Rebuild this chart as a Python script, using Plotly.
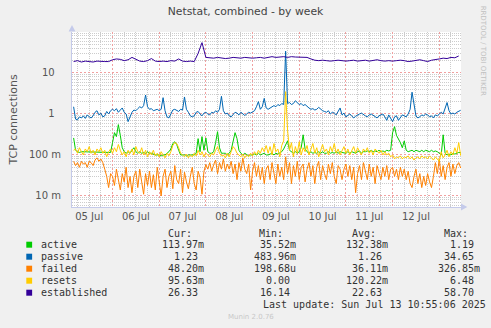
import plotly.graph_objects as go
import pandas as pd

# ---------------- data ----------------
times_1h = pd.date_range("2025-07-05 04:00", periods=200, freq="1h")
times_2h = pd.date_range("2025-07-05 04:00", periods=100, freq="2h")

active = [
    0.26, 0.13, 0.12, 0.115, 0.12, 0.12, 0.115, 0.12, 0.12, 0.12,
    0.12, 0.115, 0.12, 0.12, 0.12, 0.115, 0.12, 0.12, 0.12, 0.115,
    0.2, 0.35, 0.28, 0.55, 0.3, 0.15, 0.12, 0.11, 0.12, 0.11,
    0.13, 0.15, 0.12, 0.11, 0.12, 0.11, 0.115, 0.11, 0.12, 0.11,
    0.11, 0.105, 0.1, 0.1, 0.1, 0.095, 0.1, 0.1, 0.11, 0.12,
    0.14, 0.19, 0.21, 0.18, 0.13, 0.1, 0.1, 0.1, 0.095, 0.1,
    0.1, 0.1, 0.1, 0.11, 0.25, 0.12, 0.28, 0.13, 0.26, 0.12,
    0.11, 0.11, 0.12, 0.2, 0.37, 0.15, 0.11, 0.11, 0.11, 0.1,
    0.11, 0.13, 0.22, 0.35, 0.25, 0.13, 0.11, 0.1, 0.11, 0.1,
    0.095, 0.1, 0.1, 0.105, 0.1, 0.11, 0.1, 0.105, 0.11, 0.1,
    0.1, 0.105, 0.11, 0.1, 0.11, 0.105, 0.11, 0.12, 0.14, 0.17,
    0.22, 0.13, 0.12, 0.11, 0.12, 0.11, 0.12, 0.15, 0.31, 0.14,
    0.12, 0.11, 0.12, 0.11, 0.115, 0.11, 0.12, 0.11, 0.12, 0.11,
    0.11, 0.12, 0.11, 0.115, 0.11, 0.12, 0.11, 0.12, 0.115, 0.11,
    0.11, 0.12, 0.11, 0.12, 0.115, 0.11, 0.12, 0.125, 0.11, 0.12,
    0.12, 0.125, 0.12, 0.13, 0.12, 0.125, 0.12, 0.13, 0.12, 0.125,
    0.12, 0.13, 0.125, 0.13, 0.35, 0.49, 0.3, 0.25, 0.2, 0.15,
    0.22, 0.13, 0.12, 0.125, 0.13, 0.12, 0.13, 0.125, 0.12, 0.13,
    0.12, 0.13, 0.125, 0.12, 0.13, 0.12, 0.125, 0.12, 0.11, 0.1,
    0.31, 0.11, 0.1, 0.105, 0.1, 0.11, 0.105, 0.11, 0.115, 0.114,
]

passive = [
    1.5, 0.75, 0.72, 0.85, 0.8, 0.9, 0.78, 0.95, 0.85, 0.8,
    0.9, 1.1, 1.2, 0.95, 1.05, 0.85, 0.9, 1.15, 1.0, 1.2,
    1.3, 1.2, 1.35, 1.1, 1.25, 1.4, 1.1, 1.0, 0.65, 0.85,
    1.1, 1.25, 1.2, 1.35, 1.5, 1.4, 1.6, 2.9, 1.5, 1.3,
    1.35, 1.2, 1.25, 1.3, 1.2, 1.3, 2.5, 1.2, 0.85, 0.8,
    1.0, 1.25, 1.3, 1.2, 1.15, 1.3, 1.25, 2.6, 1.3, 1.1,
    0.9, 0.85, 0.9, 1.1, 1.15, 1.0, 0.9, 1.05, 1.1, 1.0,
    0.95, 1.1, 1.05, 1.2, 1.1, 1.3, 2.7, 1.2, 1.0, 1.05,
    0.9, 0.85, 1.0, 1.1, 1.05, 0.95, 1.1, 1.0, 0.92, 1.0,
    1.1, 1.05, 1.15, 1.2, 1.5, 2.0, 1.3, 1.5, 2.4, 1.4,
    1.3, 1.4, 1.5, 1.6, 1.5, 1.7, 1.6, 1.8, 1.7, 34.0,
    1.8, 1.9, 1.7, 1.8, 2.1, 1.9, 1.7, 1.8, 1.6, 1.7,
    1.5, 1.4, 1.3, 1.35, 1.25, 1.3, 1.45, 1.3, 1.2, 1.15,
    1.1, 1.2, 1.0, 1.1, 1.05, 0.95, 1.15, 1.4, 0.95, 1.05,
    0.85, 0.95, 1.0, 0.9, 0.8, 0.88, 0.95, 1.0, 1.05, 0.95,
    0.9, 0.85, 0.95, 1.0, 0.92, 0.85, 0.8, 0.9, 0.95, 1.0,
    0.85, 0.7, 0.95, 0.8, 0.65, 0.85, 0.9, 0.7, 0.8, 0.95,
    0.9, 0.85, 1.0, 1.3, 3.4, 1.5, 0.9, 0.8, 0.85, 0.95,
    0.9, 1.0, 0.95, 0.85, 0.9, 0.8, 0.95, 0.9, 1.0, 1.1,
    1.0, 1.4, 1.9, 1.2, 1.0, 1.05, 1.0, 1.1, 1.15, 1.23,
]

failed = [
    0.07, 0.055, 0.065, 0.05, 0.07, 0.06, 0.065, 0.05, 0.07, 0.065,
    0.055, 0.075, 0.085, 0.07, 0.08, 0.065, 0.045, 0.03, 0.016, 0.035,
    0.03, 0.018, 0.045, 0.025, 0.014, 0.035, 0.022, 0.05, 0.016, 0.03,
    0.012, 0.03, 0.04, 0.016, 0.045, 0.022, 0.011, 0.035, 0.018, 0.04,
    0.016, 0.033, 0.014, 0.05, 0.022, 0.01, 0.03, 0.045, 0.016, 0.03,
    0.04, 0.015, 0.055, 0.025, 0.02, 0.045, 0.012, 0.038, 0.022, 0.015,
    0.03, 0.05, 0.02, 0.014, 0.04, 0.028, 0.011, 0.04, 0.058, 0.045,
    0.065, 0.04, 0.058, 0.075, 0.035, 0.065, 0.045, 0.08, 0.04, 0.06,
    0.045, 0.07, 0.035, 0.06, 0.025, 0.065, 0.04, 0.085, 0.045, 0.035,
    0.06, 0.014, 0.04, 0.065, 0.03, 0.055, 0.025, 0.05, 0.02, 0.045,
    0.055, 0.025, 0.065, 0.035, 0.02, 0.06, 0.03, 0.05, 0.025, 0.09,
    0.035, 0.065, 0.02, 0.055, 0.03, 0.07, 0.025, 0.05, 0.06, 0.022,
    0.045, 0.065, 0.03, 0.055, 0.02, 0.05, 0.07, 0.025, 0.055, 0.035,
    0.025, 0.06, 0.035, 0.065, 0.03, 0.02, 0.055, 0.045, 0.025, 0.045,
    0.06, 0.03, 0.055, 0.025, 0.05, 0.012, 0.035, 0.055, 0.025, 0.065,
    0.04, 0.025, 0.06, 0.03, 0.05, 0.02, 0.055, 0.035, 0.025, 0.05,
    0.03, 0.055, 0.025, 0.045, 0.05, 0.03, 0.045, 0.025, 0.05, 0.03,
    0.045, 0.025, 0.04, 0.02, 0.016, 0.03, 0.045, 0.02, 0.035, 0.016,
    0.03, 0.018, 0.035, 0.022, 0.016, 0.03, 0.065, 0.035, 0.08, 0.03,
    0.055, 0.025, 0.05, 0.065, 0.03, 0.06, 0.035, 0.055, 0.065, 0.048,
]

resets = [
    0.13, 0.14, 0.11, 0.15, 0.12, 0.1, 0.14, 0.12, 0.16, 0.11,
    0.13, 0.1, 0.14, 0.12, 0.15, 0.11, 0.13, 0.09, 0.12, 0.14,
    0.11, 0.15, 0.12, 0.18, 0.13, 0.1, 0.12, 0.09, 0.13, 0.11,
    0.14, 0.1, 0.16, 0.12, 0.11, 0.15, 0.1, 0.13, 0.09, 0.12,
    0.1, 0.13, 0.095, 0.11, 0.09, 0.12, 0.1, 0.085, 0.11, 0.095,
    0.12, 0.17, 0.2, 0.19, 0.15, 0.11, 0.1, 0.09, 0.105, 0.085,
    0.1, 0.09, 0.11, 0.095, 0.13, 0.1, 0.12, 0.09, 0.11, 0.1,
    0.09, 0.11, 0.1, 0.13, 0.16, 0.11, 0.095, 0.1, 0.085, 0.11,
    0.09, 0.12, 0.16, 0.14, 0.11, 0.1, 0.09, 0.105, 0.085, 0.1,
    0.09, 0.11, 0.095, 0.12, 0.1, 0.13, 0.11, 0.15, 0.12, 0.17,
    0.11, 0.16, 0.1, 0.19, 0.12, 0.14, 0.09, 0.17, 0.22, 3.5,
    0.4, 0.13, 0.2, 0.09, 0.16, 0.11, 0.21, 0.1, 0.15, 0.12,
    0.17, 0.1, 0.14, 0.19, 0.11, 0.15, 0.09, 0.13, 0.18, 0.12,
    0.14, 0.1, 0.16, 0.12, 0.19, 0.11, 0.14, 0.1, 0.13, 0.16,
    0.11, 0.14, 0.1, 0.13, 0.16, 0.11, 0.15, 0.12, 0.1, 0.14,
    0.12, 0.15, 0.11, 0.13, 0.1, 0.14, 0.12, 0.11, 0.13, 0.1,
    0.12, 0.1, 0.11, 0.09, 0.1, 0.08, 0.09, 0.085, 0.095, 0.08,
    0.09, 0.085, 0.095, 0.08, 0.09, 0.075, 0.085, 0.09, 0.08, 0.095,
    0.085, 0.09, 0.08, 0.095, 0.085, 0.075, 0.09, 0.08, 0.07, 0.12,
    0.085, 0.1, 0.13, 0.09, 0.12, 0.1, 0.15, 0.11, 0.2, 0.096,
]

established = [
    19, 20, 18.5, 19.5, 19, 18.5, 19.5, 19, 19, 19,
    21, 22, 21.5, 20, 21, 24, 22, 19.5, 19, 20,
    22.5, 19.5, 19, 19.5, 19, 20, 19.5, 22, 19.5, 19,
    19.5, 19, 30, 55, 24, 23.5, 23, 24, 23, 22.5,
    23, 24, 23.5, 23, 24, 23.5, 23, 23.5, 24, 23,
    24, 25, 24, 24.5, 25, 24, 25, 24.5, 24, 24.5,
    24, 22, 20.5, 20, 20.5, 20, 19.5, 20, 20.5, 20,
    19.5, 20, 20.5, 19.5, 20, 20.5, 19.5, 20, 21, 20,
    19.5, 20, 19.5, 20, 20.5, 20, 19, 19.5, 20.5, 21,
    20, 19, 20.5, 21, 22, 23, 22.5, 24, 23.5, 26,
]

series_names = ["active", "passive", "failed", "resets", "established"]
series_colors = ["#00CC00", "#0066B3", "#FF8000", "#FFCC00", "#330099"]
stat_cur = ["113.97m", "1.23", "48.20m", "95.63m", "26.33"]
stat_min = ["35.52m", "483.96m", "198.68u", "0.00", "16.14"]
stat_avg = ["132.38m", "1.26", "36.11m", "120.22m", "22.63"]
stat_max = ["1.19", "34.65", "326.85m", "6.48", "58.70"]

y_tickvals = [0.01, 0.1, 1, 10]
y_ticktext = ["10 m", "100 m", "1\u00a0\u00a0", "10\u00a0\u00a0"]

# ---------------- figure ----------------
W, H = 491, 328
L, R, T, B = 61, 461, 32, 207


def px(x):
    return (x - L) / (R - L)


def py(y):
    return (B - y) / (B - T)


fig = go.Figure()
data_map = {
    "active": (times_1h, active),
    "passive": (times_1h, passive),
    "failed": (times_1h, failed),
    "resets": (times_1h, resets),
    "established": (times_2h, established),
}
for name, col in zip(series_names, series_colors):
    xs, ys = data_map[name]
    fig.add_trace(go.Scatter(x=xs, y=ys, mode="lines", name=name,
                             line=dict(color=col, width=1), showlegend=False,
                             hoverinfo="skip"))

minor_y = [m * 10 ** e for e in range(-3, 2) for m in range(2, 10)]

fig.update_layout(
    width=W, height=H, autosize=False,
    margin=dict(l=L, r=W - R, t=T, b=H - B, pad=0),
    paper_bgcolor="#F0F0F0", plot_bgcolor="#FFFFFF",
    font=dict(family="DejaVu Sans", size=10, color="#555555"),
    title=dict(text="Netstat, combined - by week", x=0.5, xanchor="center",
               y=1 - 11.7 / H, yanchor="middle",
               font=dict(family="DejaVu Sans", size=10.8, color="#444444")),
    xaxis=dict(
        type="date",
        range=["2025-07-05 03:10", "2025-07-13 11:10"],
        tick0="2025-07-05", dtick=86400000, tickformat="%d %b",
        ticklabelmode="period",
        showgrid=True, gridcolor="#F0A0A0", griddash="2px,2px", gridwidth=1,
        minor=dict(tick0="2025-07-05", dtick=6 * 3600 * 1000, showgrid=True,
                   gridcolor="#CCCCCC", griddash="1px,1px", gridwidth=1),
        showline=True, linecolor="#C4CAEA", linewidth=1,
        ticks="", zeroline=False,
        tickfont=dict(family="DejaVu Sans", size=10, color="#555555"),
    ),
    yaxis=dict(
        type="log", range=[-2.27, 2.0],
        tickmode="array", tickvals=y_tickvals, ticktext=y_ticktext,
        showgrid=True, gridcolor="#F0A0A0", griddash="2px,2px", gridwidth=1,
        minor=dict(tickmode="array", tickvals=minor_y, showgrid=True,
                   gridcolor="#CCCCCC", griddash="1px,1px", gridwidth=1),
        showline=True, linecolor="#C4CAEA", linewidth=1,
        ticks="", zeroline=False, ticklabelstandoff=8,
        tickfont=dict(family="DejaVu Sans", size=10, color="#555555"),
        title=dict(text="TCP connections", standoff=9,
                   font=dict(family="DejaVu Sans", size=11, color="#555555")),
    ),
)

shapes = []
# axis arrows
shapes.append(dict(type="path", xref="paper", yref="paper",
                   path=f"M {px(57.5)} {py(31.5)} L {px(64.5)} {py(31.5)} L {px(61)} {py(25)} Z",
                   fillcolor="#C4CAEA", line=dict(width=0)))
shapes.append(dict(type="path", xref="paper", yref="paper",
                   path=f"M {px(461)} {py(203.5)} L {px(461)} {py(210.5)} L {px(467.5)} {py(207)} Z",
                   fillcolor="#C4CAEA", line=dict(width=0)))

annotations = []
mono = dict(family="DejaVu Sans Mono", size=10, color="#333333")
row_y = [244.7, 256.7, 268.7, 280.7, 292.7]
col_x = [151.7, 245.7, 340.7, 435.0]
headers = ["Cur:", "Min:", "Avg:", "Max:"]
for hx, htxt in zip(col_x, headers):
    annotations.append(dict(x=px(hx + 6), y=py(233.3), xref="paper", yref="paper",
                            text=htxt, showarrow=False, xanchor="left", yanchor="middle",
                            font=mono))


def fmt(v):
    if v[-1].isalpha():
        num, unit = v[:-1], v[-1]
    else:
        num, unit = v, "\u00a0"
    return num.rjust(6, "\u00a0") + unit


for i, (name, col) in enumerate(zip(series_names, series_colors)):
    yy = row_y[i]
    shapes.append(dict(type="rect", xref="paper", yref="paper",
                       x0=px(14), x1=px(20), y0=py(yy + 3), y1=py(yy - 3),
                       fillcolor=col, line=dict(width=0)))
    annotations.append(dict(x=px(26.7), y=py(yy), xref="paper", yref="paper",
                            text=name, showarrow=False, xanchor="left", yanchor="middle",
                            font=mono))
    for cx, vals in zip(col_x, [stat_cur, stat_min, stat_avg, stat_max]):
        annotations.append(dict(x=px(cx), y=py(yy), xref="paper", yref="paper",
                                text=fmt(vals[i]), showarrow=False, xanchor="left",
                                yanchor="middle", font=mono))

annotations.append(dict(x=px(255), y=py(304.3), xref="paper", yref="paper",
                        text="Last update: Sun Jul 13 10:55:06 2025", showarrow=False,
                        xanchor="left", yanchor="middle", font=mono))
annotations.append(dict(x=px(245), y=py(317), xref="paper", yref="paper",
                        text="Munin 2.0.76", showarrow=False, xanchor="center",
                        yanchor="middle",
                        font=dict(family="DejaVu Sans", size=7, color="#C8C8C8")))
annotations.append(dict(x=px(484), y=py(4), xref="paper", yref="paper",
                        text="RRDTOOL / TOBI OETIKER", showarrow=False, textangle=90,
                        xanchor="center", yanchor="top",
                        font=dict(family="DejaVu Sans", size=7, color="#C0C0C0")))

fig.update_layout(shapes=shapes, annotations=annotations)
fig.write_html("out.html")
